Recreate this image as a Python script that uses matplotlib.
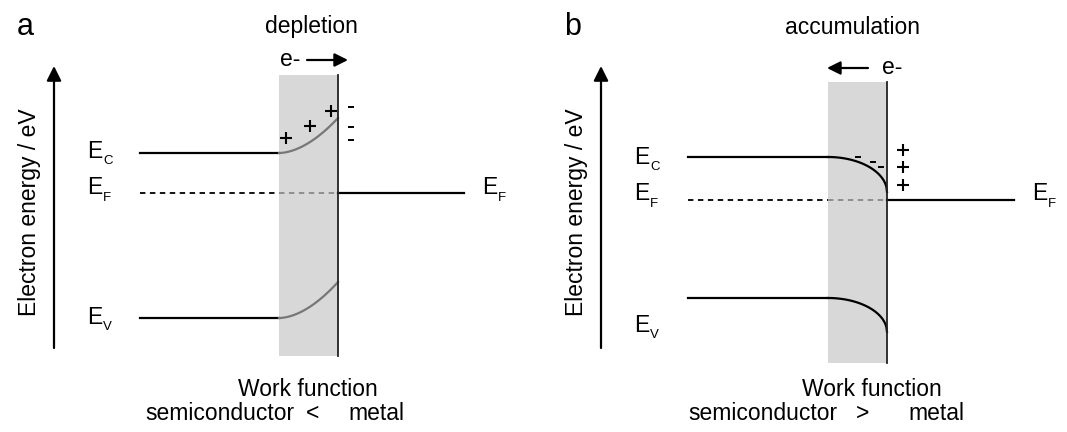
import numpy as np
import matplotlib.pyplot as plt

plt.rcParams['font.family'] = ['Liberation Sans', 'DejaVu Sans']

# band diagram geometry, in figure pixels (y grows downwards)
panels = ['a', 'b']
titles = ['depletion', 'accumulation']
compare = ['<', '>']
x_left = [140, 688]        # start of semiconductor bands
x_layer = [279, 828]       # start of the space-charge layer
x_metal = [338, 887]       # semiconductor / metal interface
x_right = [464, 1014]      # end of metal Fermi level
ec_bulk = [153, 157]
ec_surf = [118, 192]
ev_bulk = [318, 298]
ev_surf = [282, 332]
ef_level = [193, 200]
axis_x = [54, 601]
box_top = [75, 82]
box_bottom = [356, 363]
bend_color = ['#777777', 'black']

# space charge positions
plus_x = [286, 310, 331, 903, 903, 903]
plus_y = [138, 126, 111, 150, 167, 185]
minus_x = [351, 351, 351, 858, 873, 881]
minus_y = [107, 127, 140, 157, 162, 167]

fig = plt.figure(figsize=(10.67, 4.32), dpi=100)
ax = fig.add_axes([0, 0, 1, 1])
ax.set_xlim(0, 1067)
ax.set_ylim(432, 0)
ax.axis('off')

fs = 16.5
lw = 1.6


def bend(x0, x1, y0, y1, kind):
    t = np.linspace(0, 1, 100)
    if kind == 'a':
        f = t ** 1.8
    else:
        f = 1 - np.sqrt(1 - t ** 2)
    return x0 + (x1 - x0) * t, y0 + (y1 - y0) * f


def elabel(x, y, sub):
    ax.text(x, y, 'E', fontsize=fs, ha='left', va='center')
    ax.text(x + 16, y + 10, sub, fontsize=9.5, ha='left', va='center')


for i, p in enumerate(panels):
    xl, xs, xm, xr = x_left[i], x_layer[i], x_metal[i], x_right[i]

    # space-charge region
    ax.add_patch(plt.Rectangle((xs, box_top[i]), xm - xs, box_bottom[i] - box_top[i],
                               facecolor='#d8d8d8', edgecolor='none', zorder=1))
    ax.plot([xm, xm], [box_top[i], box_bottom[i]], color='#222222', lw=1.3, zorder=3)

    # conduction and valence bands
    for yb, ysf in [(ec_bulk[i], ec_surf[i]), (ev_bulk[i], ev_surf[i])]:
        ax.plot([xl, xs], [yb, yb], color='black', lw=lw, zorder=2)
        bx, by = bend(xs, xm, yb, ysf, p)
        ax.plot(bx, by, color=bend_color[i], lw=lw, zorder=2)

    # Fermi level
    ef = ef_level[i]
    ax.plot([xl, xs], [ef, ef], color='black', lw=1.3, ls=(0, (3, 2.5)), zorder=2)
    ax.plot([xs, xm], [ef, ef], color='#888888', lw=1.3, ls=(0, (3, 2.5)), zorder=2)
    ax.plot([xm, xr], [ef, ef], color='black', lw=lw, zorder=2)

    # energy axis
    ax.annotate('', xy=(axis_x[i], 66), xytext=(axis_x[i], 348),
                arrowprops=dict(arrowstyle='-|>', color='black', lw=1.6,
                                mutation_scale=22, shrinkA=0, shrinkB=0))
    ax.text(axis_x[i] - 24, 212, 'Electron energy / eV', fontsize=fs,
            rotation=90, ha='center', va='center')

    ax.text(axis_x[i] - 37, 27, p, fontsize=22, ha='left', va='center')
    ax.text((xs + xm) / 2 + 3 if i == 0 else 853, 27, titles[i], fontsize=fs,
            ha='center', va='center')

    ax.text((xs + xm) / 2 - 1 if i == 0 else 872, 390, 'Work function', fontsize=fs,
            ha='center', va='center')

# level labels
elabel(87, 151, 'C')
elabel(87, 188, 'F')
elabel(87, 317, 'V')
elabel(482, 188, 'F')
elabel(634, 157, 'C')
elabel(634, 194, 'F')
elabel(634, 325, 'V')
elabel(1032, 194, 'F')

# electron transfer arrows
ax.text(290, 60, 'e-', fontsize=fs, ha='center', va='center')
ax.annotate('', xy=(348, 60), xytext=(307, 60),
            arrowprops=dict(arrowstyle='-|>', color='black', lw=1.6,
                            mutation_scale=20, shrinkA=0, shrinkB=0))
ax.text(892, 68, 'e-', fontsize=fs, ha='center', va='center')
ax.annotate('', xy=(827, 68), xytext=(868, 68),
            arrowprops=dict(arrowstyle='-|>', color='black', lw=1.6,
                            mutation_scale=20, shrinkA=0, shrinkB=0))

# space charges
ax.plot(plus_x, plus_y, ls='none', marker='+', ms=8, mew=1.5, color='black', zorder=4)
ax.plot(minus_x, minus_y, ls='none', marker='_', ms=5, mew=1.4, color='black', zorder=4)

# work function comparison rows
ax.text(145, 413, 'semiconductor', fontsize=fs, ha='left', va='center')
ax.text(313, 413, '<', fontsize=fs, ha='center', va='center')
ax.text(348, 413, 'metal', fontsize=fs, ha='left', va='center')
ax.text(688, 413, 'semiconductor', fontsize=fs, ha='left', va='center')
ax.text(863, 413, '>', fontsize=fs, ha='center', va='center')
ax.text(908, 413, 'metal', fontsize=fs, ha='left', va='center')

fig.savefig('out.png', dpi=100, facecolor='white')
